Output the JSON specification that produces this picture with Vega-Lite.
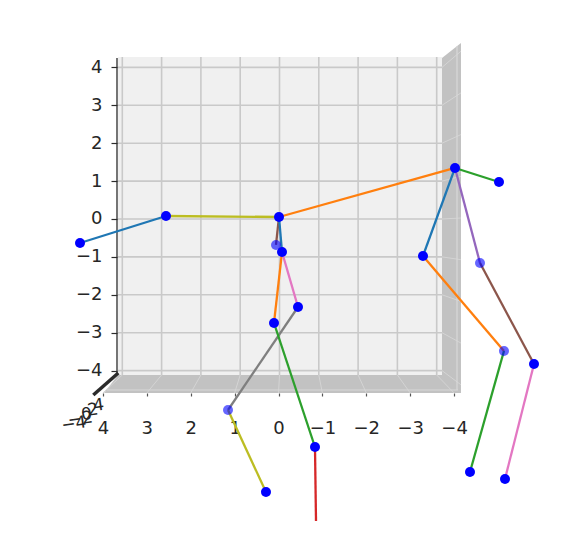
{
 "$schema": "https://vega.github.io/schema/vega-lite/v6.json",
 "width": 588, "height": 554,
 "autosize": {"type": "none"},
 "padding": 0,
 "background": "white",
 "config": {"view": {"stroke": null}},
 "resolve": {"scale": {"x": "independent"}, "axis": {"x": "independent"}},
 "datasets": {
  "shade": [
   {"x": 4.466, "top": -4.591, "bottom": -4.591},
   {"x": 4.109, "top": -4.116, "bottom": -4.591},
   {"x": -4.135, "top": 4.248, "bottom": -4.591},
   {"x": -4.618, "top": 4.644, "bottom": -4.591}
  ],
  "pane": [{"left": 4.109, "right": -4.135, "top": 4.274, "bottom": -4.116}],
  "ticks": [{"v": -4}, {"v": -3}, {"v": -2}, {"v": -1}, {"v": 0}, {"v": 1}, {"v": 2}, {"v": 3}, {"v": 4}],
  "floorGrid": [
   {"back": 4, "front": 4.494}, {"back": 3, "front": 3.377}, {"back": 2, "front": 2.26},
   {"back": 1, "front": 1.143}, {"back": 0, "front": 0.025}, {"back": -1, "front": -1.092},
   {"back": -2, "front": -2.209}, {"back": -3, "front": -3.326}, {"back": -4, "front": -4.443}
  ],
  "sideGrid": [
   {"back": 4, "front": 4.427}, {"back": 3, "front": 3.327}, {"back": 2, "front": 2.227},
   {"back": 1, "front": 1.127}, {"back": 0, "front": 0.026}, {"back": -1, "front": -1.074},
   {"back": -2, "front": -2.174}, {"back": -3, "front": -3.274}, {"back": -4, "front": -4.375}
  ],
  "axisLines": [
   {"x": 4.135, "y": 4.248, "x2": 4.135, "y2": -4.063, "w": "thin"},
   {"x": 4.738, "y": -4.644, "x2": 4.102, "y2": -4.063, "w": "thick"}
  ],
  "depthGrid": [
   {"x": 4.389, "y": -4.512, "x2": -4.542, "y2": -4.512},
   {"x": -4.517, "y": 4.565, "x2": -4.517, "y2": -4.512}
  ],
  "depthLabels": [
   {"label": "−4", "x": 5.23, "y": -5.41},
   {"label": "−2", "x": 5.07, "y": -5.28},
   {"label": "0", "x": 4.91, "y": -5.16},
   {"label": "2", "x": 4.75, "y": -5.04},
   {"label": "4", "x": 4.6, "y": -4.92}
  ],
  "bones": [
   {"bone": "b01", "x": 5.076, "y": -0.633, "x2": 2.888, "y2": 0.079},
   {"bone": "b02", "x": 2.888, "y": 0.079, "x2": 0.013, "y2": 0.053},
   {"bone": "b03", "x": 0.013, "y": 0.053, "x2": -4.466, "y2": 1.346},
   {"bone": "b04", "x": 0.013, "y": 0.053, "x2": 0.089, "y2": -0.686},
   {"bone": "b05", "x": 0.013, "y": 0.053, "x2": -0.064, "y2": -0.871},
   {"bone": "b06", "x": -0.064, "y": -0.871, "x2": 0.14, "y2": -2.744},
   {"bone": "b07", "x": -0.064, "y": -0.871, "x2": -0.471, "y2": -2.322},
   {"bone": "b08", "x": -0.471, "y": -2.322, "x2": 1.31, "y2": -5.04},
   {"bone": "b09", "x": 1.31, "y": -5.04, "x2": 0.344, "y2": -7.203},
   {"bone": "b10", "x": 0.14, "y": -2.744, "x2": -0.903, "y2": -6.016},
   {"bone": "b11", "x": -0.903, "y": -6.016, "x2": -0.929, "y2": -7.968},
   {"bone": "b12", "x": -4.466, "y": 1.346, "x2": -5.585, "y2": 0.976},
   {"bone": "b13", "x": -4.466, "y": 1.346, "x2": -3.651, "y2": -0.976},
   {"bone": "b14", "x": -4.466, "y": 1.346, "x2": -5.102, "y2": -1.161},
   {"bone": "b15", "x": -3.651, "y": -0.976, "x2": -5.712, "y2": -3.483},
   {"bone": "b16", "x": -5.102, "y": -1.161, "x2": -6.476, "y2": -3.826},
   {"bone": "b17", "x": -5.712, "y": -3.483, "x2": -4.847, "y2": -6.675},
   {"bone": "b18", "x": -6.476, "y": -3.826, "x2": -5.738, "y2": -6.86}
  ],
  "joints": [
   {"x": 5.076, "y": -0.633, "depth": "near"},
   {"x": 2.888, "y": 0.079, "depth": "near"},
   {"x": 0.013, "y": 0.053, "depth": "near"},
   {"x": 0.089, "y": -0.686, "depth": "far"},
   {"x": -0.064, "y": -0.871, "depth": "near"},
   {"x": 0.14, "y": -2.744, "depth": "near"},
   {"x": -0.471, "y": -2.322, "depth": "near"},
   {"x": 1.31, "y": -5.04, "depth": "far"},
   {"x": 0.344, "y": -7.203, "depth": "near"},
   {"x": -0.903, "y": -6.016, "depth": "near"},
   {"x": -4.466, "y": 1.346, "depth": "near"},
   {"x": -5.585, "y": 0.976, "depth": "near"},
   {"x": -3.651, "y": -0.976, "depth": "near"},
   {"x": -5.102, "y": -1.161, "depth": "far"},
   {"x": -5.712, "y": -3.483, "depth": "far"},
   {"x": -6.476, "y": -3.826, "depth": "near"},
   {"x": -4.847, "y": -6.675, "depth": "near"},
   {"x": -5.738, "y": -6.86, "depth": "near"}
  ]
 },
 "layer": [
  {
   "data": {"name": "shade"},
   "mark": {"type": "area", "color": "#c2c2c2", "opacity": 1},
   "encoding": {
    "x": {"field": "x", "type": "quantitative", "scale": {"domain": [7.112, -7.85], "nice": false, "zero": false}, "axis": null},
    "y": {"field": "top", "type": "quantitative", "scale": {"domain": [-8.839, 5.778], "nice": false, "zero": false},
     "axis": {"values": [-4, -3, -2, -1, 0, 1, 2, 3, 4], "orient": "left", "offset": -117, "zindex": 1, "domain": false, "grid": false, "tickSize": 6, "tickWidth": 1.2, "tickColor": "#2b2b2b", "labelFont": "DejaVu Sans", "labelFontSize": 18, "labelColor": "#262626", "labelPadding": 9, "title": null}},
    "y2": {"field": "bottom"}
   }
  },
  {
   "data": {"name": "pane"},
   "mark": {"type": "rect", "color": "#f0f0f0"},
   "encoding": {
    "x": {"field": "left", "type": "quantitative", "scale": {"domain": [7.112, -7.85], "nice": false, "zero": false}, "axis": null},
    "x2": {"field": "right"},
    "y": {"field": "top", "type": "quantitative"},
    "y2": {"field": "bottom"}
   }
  },
  {
   "data": {"name": "ticks"},
   "mark": {"type": "rule", "color": "#c9c9c9", "strokeWidth": 1.6},
   "encoding": {
    "x": {"field": "v", "type": "quantitative", "scale": {"domain": [7.112, -7.85], "nice": false, "zero": false}, "axis": null},
    "y": {"datum": 4.274, "type": "quantitative"},
    "y2": {"datum": -4.116}
   }
  },
  {
   "data": {"name": "ticks"},
   "mark": {"type": "rule", "color": "#c9c9c9", "strokeWidth": 1.6},
   "encoding": {
    "y": {"field": "v", "type": "quantitative"},
    "x": {"datum": 4.109, "type": "quantitative", "scale": {"domain": [7.112, -7.85], "nice": false, "zero": false}, "axis": null},
    "x2": {"datum": -4.135}
   }
  },
  {
   "data": {"name": "floorGrid"},
   "mark": {"type": "rule", "color": "#d4d4d4", "strokeWidth": 1},
   "encoding": {
    "x": {"field": "back", "type": "quantitative", "scale": {"domain": [7.112, -7.85], "nice": false, "zero": false}, "axis": null},
    "x2": {"field": "front"},
    "y": {"datum": -4.116, "type": "quantitative"},
    "y2": {"datum": -4.591}
   }
  },
  {
   "data": {"name": "sideGrid"},
   "mark": {"type": "rule", "color": "#d4d4d4", "strokeWidth": 1},
   "encoding": {
    "y": {"field": "back", "type": "quantitative"},
    "y2": {"field": "front"},
    "x": {"datum": -4.135, "type": "quantitative", "scale": {"domain": [7.112, -7.85], "nice": false, "zero": false}, "axis": null},
    "x2": {"datum": -4.618}
   }
  },
  {
   "data": {"name": "depthGrid"},
   "mark": {"type": "rule", "color": "#d8d8d8", "strokeWidth": 1.2},
   "encoding": {
    "x": {"field": "x", "type": "quantitative", "scale": {"domain": [7.112, -7.85], "nice": false, "zero": false}, "axis": null},
    "x2": {"field": "x2"},
    "y": {"field": "y", "type": "quantitative"},
    "y2": {"field": "y2"}
   }
  },
  {
   "data": {"name": "axisLines"},
   "mark": {"type": "rule", "color": "#2b2b2b"},
   "encoding": {
    "x": {"field": "x", "type": "quantitative", "scale": {"domain": [7.112, -7.85], "nice": false, "zero": false}, "axis": null},
    "x2": {"field": "x2"},
    "y": {"field": "y", "type": "quantitative"},
    "y2": {"field": "y2"},
    "strokeWidth": {"field": "w", "type": "nominal", "scale": {"domain": ["thin", "thick"], "range": [1.3, 3.5]}, "legend": null}
   }
  },
  {
   "data": {"name": "depthLabels"},
   "mark": {"type": "text", "font": "DejaVu Sans", "fontSize": 17, "color": "#262626", "angle": -8},
   "encoding": {
    "x": {"field": "x", "type": "quantitative", "scale": {"domain": [7.112, -7.85], "nice": false, "zero": false}, "axis": null},
    "y": {"field": "y", "type": "quantitative"},
    "text": {"field": "label"}
   }
  },
  {
   "data": {"name": "bones"},
   "mark": {"type": "rule", "strokeWidth": 2.3},
   "encoding": {
    "x": {"field": "x", "type": "quantitative", "scale": {"domain": [7.112, -7.85], "nice": false, "zero": false}, "axis": null},
    "x2": {"field": "x2"},
    "y": {"field": "y", "type": "quantitative"},
    "y2": {"field": "y2"},
    "color": {"field": "bone", "type": "nominal", "legend": null, "scale": {
     "domain": ["b01","b02","b03","b04","b05","b06","b07","b08","b09","b10","b11","b12","b13","b14","b15","b16","b17","b18"],
     "range": ["#1f77b4","#bcbd22","#ff7f0e","#8c564b","#1f77b4","#ff7f0e","#e377c2","#7f7f7f","#bcbd22","#2ca02c","#d62728","#2ca02c","#1f77b4","#9467bd","#ff7f0e","#8c564b","#2ca02c","#e377c2"]}}
   }
  },
  {
   "data": {"name": "joints"},
   "mark": {"type": "circle", "size": 100, "color": "#0000ff"},
   "encoding": {
    "x": {"field": "x", "type": "quantitative", "scale": {"domain": [7.112, -7.85], "nice": false, "zero": false}, "axis": null},
    "y": {"field": "y", "type": "quantitative"},
    "opacity": {"field": "depth", "type": "nominal", "scale": {"domain": ["near", "far"], "range": [1, 0.6]}, "legend": null}
   }
  },
  {
   "data": {"name": "ticks"},
   "mark": {"type": "rule", "strokeOpacity": 0},
   "encoding": {
    "x": {"field": "v", "type": "quantitative", "scale": {"domain": [6.344, -7.05], "nice": false, "zero": false},
     "axis": {"values": [-4, -3, -2, -1, 0, 1, 2, 3, 4], "orient": "bottom", "offset": -161, "domain": false, "grid": false, "tickSize": 3, "tickWidth": 1.2, "tickColor": "#555", "labelFont": "DejaVu Sans", "labelFontSize": 18, "labelColor": "#262626", "labelPadding": 23, "title": null}},
    "y": {"datum": -4.591, "type": "quantitative"},
    "y2": {"datum": -4.67}
   }
  }
 ]
}
